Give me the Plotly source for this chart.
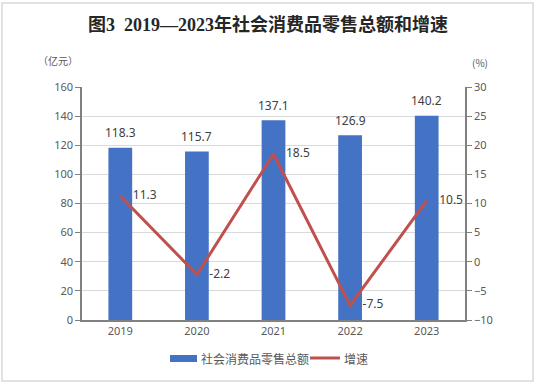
import plotly.graph_objects as go

years = ["2019", "2020", "2021", "2022", "2023"]
sales = [118.3, 115.7, 137.1, 126.9, 140.2]
growth = [11.3, -2.2, 18.5, -7.5, 10.5]
left_ticks = [0, 20, 40, 60, 80, 100, 120, 140, 160]
right_ticks = [-10, -5, 0, 5, 10, 15, 20, 25, 30]
legend_names = ["社会消费品零售总额", "增速"]

font_cjk = "Noto Sans CJK SC, Noto Sans, sans-serif"
font_num = "Noto Sans, sans-serif"
tick_color = "#595959"
label_color = "#404040"
bar_color = "#4472C4"
line_color = "#C0504D"

# plot area in pixels: left 82, right 465, top 87, bottom 320
PW, PH = 383.0, 233.0
def px(x):
    return (x - 82) / PW
def py(y):
    return (320 - y) / PH

fig = go.Figure()
fig.add_trace(go.Bar(
    x=years, y=sales, name=legend_names[0],
    marker=dict(color=bar_color, line=dict(width=0)),
    width=0.31, showlegend=False,
))
fig.add_trace(go.Scatter(
    x=years, y=growth, name=legend_names[1], yaxis="y2", mode="lines+text",
    line=dict(color=line_color, width=3),
    text=[f"\u00a0\u00a0\u00a0\u00a0{v:.1f}" for v in growth], textposition="middle right",
    textfont=dict(size=12, color=label_color, family=font_num),
    cliponaxis=False, showlegend=False,
))

# bar value labels (category index on the category axis)
for i, v in enumerate(sales):
    fig.add_annotation(x=i, y=v, xref="x", yref="y", text=f"{v:.1f}",
                       showarrow=False, yshift=15, yanchor="middle",
                       font=dict(size=12, color=label_color, family=font_num))

fig.update_layout(
    width=536, height=384,
    margin=dict(l=82, r=71, t=87, b=64, autoexpand=False),
    paper_bgcolor="white", plot_bgcolor="white",
    title=dict(text="<b>图3  2019—2023年社会消费品零售总额和增速</b>",
               x=0.5, xanchor="center", y=1 - 25 / 384, yanchor="middle",
               yref="container",
               font=dict(size=18, color="#262626",
                         family="Liberation Serif, Noto Sans CJK SC, serif")),
    xaxis=dict(type="category", range=[-0.5, len(years) - 0.5],
               showline=True, linecolor="#808080", linewidth=1.5,
               automargin=False,
               tickfont=dict(size=11, color=tick_color, family=font_num),
               ticks="", showgrid=False),
    yaxis=dict(range=[0, 160], tickvals=left_ticks, showline=True, automargin=False,
               linecolor="#808080", linewidth=1.5, ticks="outside", ticklen=5,
               tickcolor="#808080", gridcolor="#D9D9D9", gridwidth=1,
               tickfont=dict(size=11, color=tick_color, family=font_num),
               zeroline=False),
    yaxis2=dict(range=[-10, 30], tickvals=right_ticks, overlaying="y", side="right",
                showline=True, linecolor="#808080", linewidth=1.5, ticks="outside",
                ticklen=5, tickcolor="#808080", showgrid=False, zeroline=False,
                automargin=False,
                tickfont=dict(size=11, color=tick_color, family=font_num)),
    showlegend=False,
)

fig.add_annotation(text="（亿元）", xref="paper", yref="paper", x=px(80), y=py(61),
                   xanchor="right", yanchor="middle", showarrow=False,
                   font=dict(size=10, color=tick_color, family=font_cjk))
fig.add_annotation(text="(%)", xref="paper", yref="paper", x=px(480), y=py(63),
                   xanchor="center", yanchor="middle", showarrow=False,
                   font=dict(size=10, color=tick_color, family=font_cjk))

# manual legend
fig.add_shape(type="rect", xref="paper", yref="paper",
              x0=px(170), x1=px(197), y0=py(362), y1=py(355),
              line=dict(width=0), fillcolor=bar_color)
fig.add_annotation(text=legend_names[0], xref="paper", yref="paper", x=px(199), y=py(358),
                   xanchor="left", yanchor="middle", showarrow=False,
                   font=dict(size=12, color=tick_color, family=font_cjk))
fig.add_shape(type="line", xref="paper", yref="paper",
              x0=px(310), x1=px(340), y0=py(358), y1=py(358),
              line=dict(color=line_color, width=3))
fig.add_annotation(text=legend_names[1], xref="paper", yref="paper", x=px(342), y=py(358),
                   xanchor="left", yanchor="middle", showarrow=False,
                   font=dict(size=12, color=tick_color, family=font_cjk))

# outer border
fig.add_shape(type="rect", xref="paper", yref="paper",
              x0=px(2), x1=px(533), y0=py(381), y1=py(3),
              line=dict(color="#D9D9D9", width=1.5), fillcolor="rgba(0,0,0,0)")

fig.write_html("out.html", config={"displayModeBar": False},
               post_script="document.body.style.margin='0';document.body.style.padding='0';")
